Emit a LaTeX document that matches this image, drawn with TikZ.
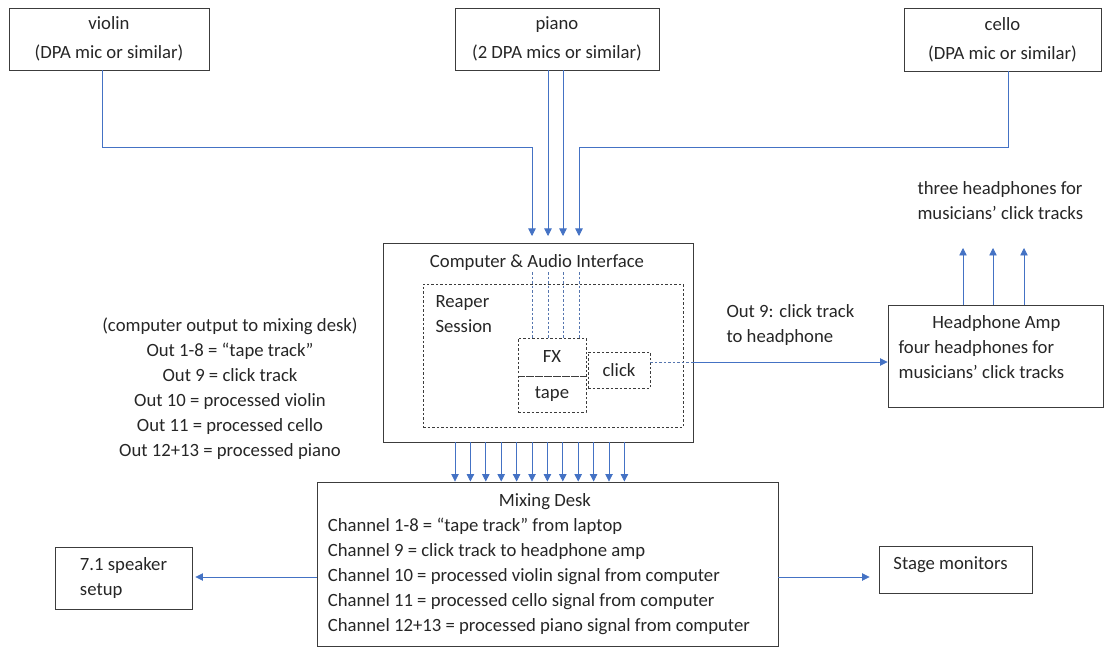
\documentclass[tikz,border=0pt]{standalone}
\usepackage{fontspec}
\setmainfont{Carlito}
\usetikzlibrary{arrows.meta}
\definecolor{wireblue}{RGB}{68,114,196}
\definecolor{boxline}{RGB}{60,60,60}
\definecolor{textgray}{RGB}{38,38,38}
\tikzset{
	every node/.style={font=\fontsize{18.7}{25}\selectfont, text=textgray},
	box/.style={draw=boxline, line width=0.9pt, align=center},
	dashbox/.style={draw=boxline, line width=0.9pt, dash pattern=on 2.5pt off 2pt},
	wire/.style={draw=wireblue, line width=0.8pt, -{Triangle[width=7.5pt,length=7.5pt]}},
	dashlink/.style={draw=wireblue!70!gray, line width=0.8pt, dash pattern=on 2.5pt off 2pt},
}
\begin{document}
\begin{tikzpicture}[x=1pt, y=-1pt]
		\useasboundingbox (0,0) rectangle (1104,647);
		\node[box, minimum width=200pt, minimum height=62pt] (violin) at (109,39) {violin\\[4pt](DPA mic or similar)};
		\node[box, minimum width=204pt, minimum height=62pt] (piano) at (557,39) {piano\\[4pt](2 DPA mics or similar)};
		\node[box, minimum width=197pt, minimum height=63pt] (cello) at (1002.5,39.5) {cello\\[4pt](DPA mic or similar)};
		\node[box, minimum width=310pt, minimum height=199pt] (computer) at (538,342.5) {};
		\node[anchor=base, inner sep=1pt] (comptitle) at (537,268) {Computer \& Audio Interface};
		\node[dashbox, minimum width=260pt, minimum height=143pt] (reaper) at (553,355.5) {};
		\node[anchor=north west, align=left] (reapertext) at (432,292) {Reaper\\Session};
		\node[dashbox, minimum width=68pt, minimum height=38pt] (fx) at (552,357) {FX};
		\node[dashbox, minimum width=68pt, minimum height=36pt] (tape) at (552,394) {tape};
		\node[dashbox, minimum width=62pt, minimum height=36pt] (click) at (619,370) {click};
		\node[box, minimum width=215pt, minimum height=102pt] (amp) at (995.5,356) {
			\begin{tabular}{@{}l@{}}
				\multicolumn{1}{@{}c@{}}{\hspace{30pt}Headphone Amp} \\
				four headphones for \\
				musicians’ click tracks \\[15pt]
			\end{tabular}\hspace{24pt}
		};
		\node[box, minimum width=461pt, minimum height=164pt] (desk) at (547.5,564) {
			\begin{tabular}{@{}l@{}}
				\multicolumn{1}{@{}c@{}}{\hspace{12pt}Mixing Desk} \\
				Channel 1-8 = “tape track” from laptop \\
				Channel 9 = click track to headphone amp \\
				Channel 10 = processed violin signal from computer \\
				Channel 11 = processed cello signal from computer \\
				Channel 12+13 = processed piano signal from computer \\
			\end{tabular}\hspace{13pt}
		};
		\node[box, minimum width=137pt, minimum height=62pt, align=left] (speaker) at (123.5,578) {7.1 speaker\\setup};
		\node[box, minimum width=153pt, minimum height=47pt, text depth=13pt] (stage) at (955.5,569.5) {Stage monitors\hspace{10pt}};
		\node[align=center] (outlist) at (230,388.5) {(computer output to mixing desk)\\Out 1-8 = “tape track”\\Out 9 = click track\\Out 10 = processed violin\\Out 11 = processed cello\\Out 12+13 = processed piano};
		\node[anchor=west, align=left] (outnote) at (723,325) {Out 9: click track\\to headphone};
		\node[anchor=west, align=left] (hpnote) at (914,200.5) {three headphones for\\musicians’ click tracks};

		\coordinate (bus) at (0,147);
		\coordinate (in1) at (532,236);
		\coordinate (in2) at (548,236);
		\coordinate (in3) at (563,236);
		\coordinate (in4) at (579,236);
		\coordinate (hptop) at (0,248);
		\coordinate (monline) at (0,577);
		\coordinate (clickout) at ([yshift=8pt]click.east);

		\draw[wire] ([xshift=-7pt]violin.south) |- (bus -| in1) -- (in1);
		\draw[wire] (piano.south -| in2) -- (in2);
		\draw[wire] (piano.south -| in3) -- (in3);
		\draw[wire] ([xshift=5.5pt]cello.south) |- (bus -| in4) -- (in4);
		\foreach \c in {in1,in2,in3,in4}
			\draw[dashlink] (\c |- comptitle.south) -- (\c |- fx.north);
		\foreach \i [evaluate=\i as \xo using 455+15.4*\i] in {0,...,11}
			\draw[wire] (computer.south -| \xo,0) -- (desk.north -| \xo,0);
		\draw[dashlink] (clickout) -- (clickout -| computer.east);
		\draw[wire] (clickout -| computer.east) -- (clickout -| amp.west);
		\foreach \x in {963,993,1024}
			\draw[wire] (amp.north -| \x,0) -- (hptop -| \x,0);
		\draw[wire, shorten >=3pt] (monline -| desk.west) -- (monline -| speaker.east);
		\draw[wire, shorten >=9pt] (monline -| desk.east) -- (monline -| stage.west);
\end{tikzpicture}
\end{document}
